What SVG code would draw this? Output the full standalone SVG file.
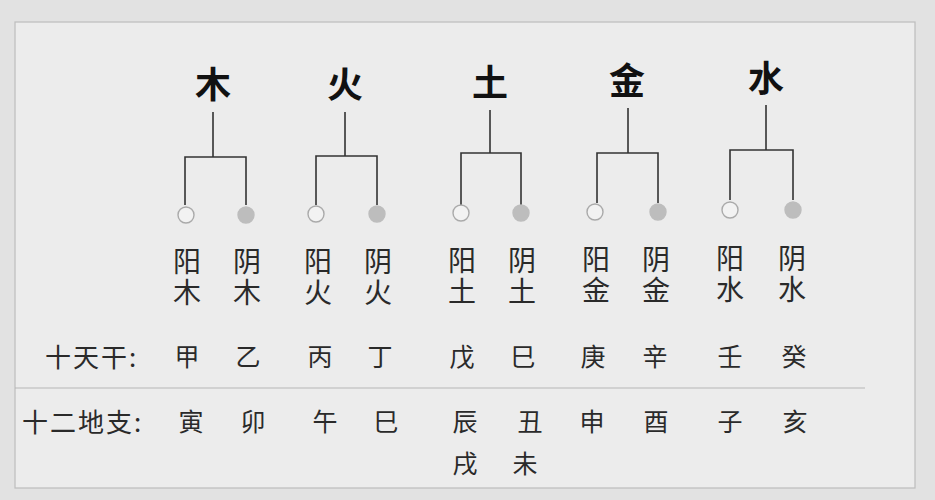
<svg xmlns="http://www.w3.org/2000/svg" width="935" height="500" viewBox="0 0 935 500">
<style>
.t{font-family:"Noto Sans CJK SC","Noto Sans",sans-serif;fill:#2a2a2a;text-anchor:middle}
.big{font-size:36px;font-weight:bold;fill:#111;dominant-baseline:central}
.yy{font-size:28px;writing-mode:vertical-rl;letter-spacing:3px}
.row{font-size:25px;dominant-baseline:central}
.lab{font-size:26px;text-anchor:start;letter-spacing:2px;dominant-baseline:central}
.ln{fill:none;stroke:#333;stroke-width:1.6}
.yang{fill:#f2f2f2;stroke:#aaa;stroke-width:1.4}
.yin{fill:#bdbdbd;stroke:#bdbdbd;stroke-width:1.4}
</style>
<rect width="935" height="500" fill="#e2e2e2"/>
<rect x="15" y="22" width="900" height="466" fill="#ececec" stroke="#bdbdbd" stroke-width="1.2"/>
<g id="connectors">
<path class="ln" d="M213,112V157M185,205V157H246V205"/>
<path class="ln" d="M345,112V156M316,205V156H377V205"/>
<path class="ln" d="M490,110V153M461,205V153H521V205"/>
<path class="ln" d="M628,108V153M597,203V153H658V203"/>
<path class="ln" d="M766,105V150M730,200V150H793V200"/>
</g>
<g id="wood"><text class="t big" x="213" y="82">木</text>
<circle class="yang" cx="186" cy="215" r="8"/><circle class="yin" cx="246" cy="215" r="8"/>
<text class="t yy" x="187" y="278">阳木</text>
<text class="t yy" x="247" y="278">阴木</text></g>
<g id="fire"><text class="t big" x="345" y="82">火</text>
<circle class="yang" cx="316" cy="214" r="8"/><circle class="yin" cx="377" cy="214" r="8"/>
<text class="t yy" x="318" y="278">阳火</text>
<text class="t yy" x="378" y="278">阴火</text></g>
<g id="earth"><text class="t big" x="490" y="80">土</text>
<circle class="yang" cx="461" cy="213" r="8"/><circle class="yin" cx="521" cy="213" r="8"/>
<text class="t yy" x="462" y="277">阳土</text>
<text class="t yy" x="522" y="277">阴土</text></g>
<g id="metal"><text class="t big" x="627" y="78">金</text>
<circle class="yang" cx="595" cy="212" r="8"/><circle class="yin" cx="658" cy="212" r="8"/>
<text class="t yy" x="596" y="276">阳金</text>
<text class="t yy" x="656" y="276">阴金</text></g>
<g id="water"><text class="t big" x="766" y="76">水</text>
<circle class="yang" cx="730" cy="210" r="8"/><circle class="yin" cx="793" cy="210" r="8"/>
<text class="t yy" x="730" y="275">阳水</text>
<text class="t yy" x="792" y="275">阴水</text></g>
<g id="stems">
<text class="t lab" x="45" y="355">十天干:</text>
<text class="t row" x="187" y="355">甲</text><text class="t row" x="248" y="355">乙</text>
<text class="t row" x="320" y="355">丙</text><text class="t row" x="380" y="355">丁</text>
<text class="t row" x="462" y="355">戊</text><text class="t row" x="523" y="355">巳</text>
<text class="t row" x="593" y="355">庚</text><text class="t row" x="655" y="355">辛</text>
<text class="t row" x="730" y="355">壬</text><text class="t row" x="794" y="355">癸</text>
</g>
<line x1="15" y1="388" x2="865" y2="388" stroke="#b5b5b5" stroke-width="1.2"/>
<g id="branches">
<text class="t lab" x="22" y="420">十二地支:</text>
<text class="t row" x="191" y="420">寅</text><text class="t row" x="253" y="420">卯</text>
<text class="t row" x="325" y="420">午</text><text class="t row" x="386" y="420">巳</text>
<text class="t row" x="465" y="420">辰</text><text class="t row" x="530" y="420">丑</text>
<text class="t row" x="592" y="420">申</text><text class="t row" x="656" y="420">酉</text>
<text class="t row" x="730" y="420">子</text><text class="t row" x="795" y="420">亥</text>
<text class="t row" x="465" y="462">戌</text><text class="t row" x="525" y="462">未</text>
</g>
</svg>
